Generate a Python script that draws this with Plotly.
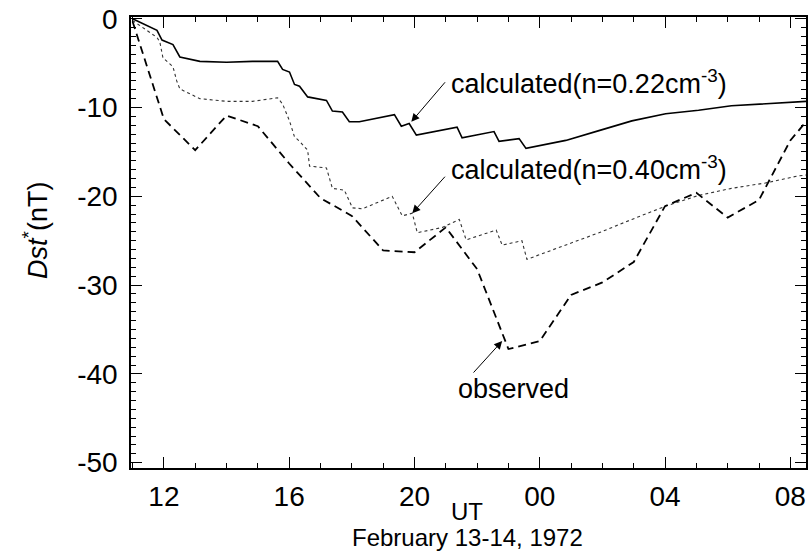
import plotly.graph_objects as go

# Hours counted from 00 UT on February 13, 1972 (24 = 00 UT Feb 14)
calc022_hours = [11.0, 11.78, 11.94, 12.29, 12.51, 13.15, 14.0, 14.83, 15.63, 15.79, 16.01, 16.17, 16.33,
                 16.59, 17.19, 17.38, 17.70, 17.92, 18.24, 19.36, 19.58, 19.83, 20.06, 21.1, 21.36, 21.52,
                 22.54, 22.70, 23.34, 23.56, 24.83, 25.89, 26.94, 28.02, 29.07, 30.12, 31.2, 32.5]
calc022_dst = [0.0, -1.3, -2.4, -2.9, -4.3, -4.8, -4.9, -4.8, -4.8, -5.7, -6.0, -7.4, -7.6,
               -8.8, -9.2, -10.4, -10.5, -11.6, -11.6, -10.8, -12.1, -11.8, -13.1, -12.4, -12.2, -13.4,
               -12.7, -13.8, -13.5, -14.6, -13.7, -12.6, -11.5, -10.7, -10.3, -9.8, -9.6, -9.3]

calc040_hours = [11.0, 11.78, 11.87, 11.97, 12.29, 12.41, 12.51, 13.15, 14.0, 14.83, 15.63, 15.79, 16.01,
                 16.17, 16.33, 16.59, 16.65, 17.19, 17.38, 17.76, 18.02, 18.34, 19.29, 19.61, 19.93, 20.09,
                 20.89, 21.43, 21.65, 22.61, 22.80, 23.43, 23.59, 24.83, 25.89, 26.94, 28.02, 29.07, 30.12,
                 31.2, 32.25, 32.5]
calc040_dst = [-0.2, -2.1, -2.6, -4.4, -5.4, -7.0, -7.9, -9.0, -9.3, -9.3, -8.9, -9.6, -11.5,
               -13.3, -13.8, -14.8, -16.6, -16.8, -19.1, -19.3, -21.3, -21.4, -20.0, -22.2, -21.9, -24.1,
               -23.5, -22.6, -24.9, -23.8, -25.5, -25.0, -27.1, -25.5, -24.1, -22.6, -21.1, -19.9, -19.1,
               -18.5, -17.7, -17.6]

obs_hours = [11, 12, 13, 14, 15, 16, 17, 18, 19, 20, 21, 22, 23, 24, 25, 26, 27, 28, 29, 30, 31, 32, 32.5]
obs_dst = [-0.3, -11.3, -14.8, -10.9, -12.1, -16.3, -20.2, -22.2, -26.1, -26.3, -23.5, -28.2, -37.2,
           -36.3, -31.1, -29.7, -27.4, -21.1, -19.6, -22.4, -20.4, -13.7, -11.6]

x_tickvals = [12, 16, 20, 24, 28, 32]
x_ticktext = ["12", "16", "20", "00", "04", "08"]
y_tickvals = [0, -10, -20, -30, -40, -50]
y_ticktext = ["0", "-10", "-20", "-30", "-40", "-50"]

FONT = "Liberation Sans, Arial, sans-serif"

fig = go.Figure()
fig.add_trace(go.Scatter(x=calc022_hours, y=calc022_dst, mode="lines",
                         line=dict(color="black", width=1.6), name="calculated(n=0.22)"))
fig.add_trace(go.Scatter(x=calc040_hours, y=calc040_dst, mode="lines",
                         line=dict(color="#333333", width=1.1, dash="dot"), name="calculated(n=0.40)"))
fig.add_trace(go.Scatter(x=obs_hours, y=obs_dst, mode="lines",
                         line=dict(color="black", width=1.8, dash="8px,5px"), name="observed"))

axis_common = dict(showline=True, linecolor="black", linewidth=1.5, mirror="ticks",
                   ticks="inside", tickcolor="black", showgrid=False, zeroline=False,
                   ticklabeloverflow="allow",
                   tickfont=dict(family=FONT, size=28, color="black"))

fig.update_xaxes(range=[10.95, 32.5], tickmode="array", tickvals=x_tickvals, ticktext=x_ticktext,
                 ticklen=11, tickwidth=1.2, ticklabelstandoff=3,
                 minor=dict(ticks="inside", dtick=1, tick0=12, ticklen=5, tickcolor="black", tickwidth=1),
                 **axis_common)
fig.update_yaxes(range=[-50.6, 0.2], tickmode="array", tickvals=y_tickvals, ticktext=y_ticktext,
                 ticklen=11, tickwidth=1.2, ticklabelstandoff=6,
                 minor=dict(ticks="inside", dtick=1, tick0=0, ticklen=5, tickcolor="black", tickwidth=1),
                 **axis_common)

ann_font = dict(family=FONT, size=27, color="black")
bottom_font = dict(family=FONT, size=24, color="black")
annotations = [
    # arrows
    dict(x=19.90, y=-11.6, ax=35, ay=-41, text="", showarrow=True, arrowhead=2, arrowsize=1.6,
         arrowwidth=1, arrowcolor="black"),
    dict(x=19.93, y=-21.9, ax=34, ay=-38, text="", showarrow=True, arrowhead=2, arrowsize=1.6,
         arrowwidth=1, arrowcolor="black"),
    dict(x=22.80, y=-36.3, ax=-30, ay=33, text="", showarrow=True, arrowhead=2, arrowsize=1.6,
         arrowwidth=1, arrowcolor="black"),
    # labels
    dict(x=21.11, y=-7.15, text="calculated(n=0.22cm<sup>-3</sup>)", showarrow=False,
         xanchor="left", yanchor="middle", font=ann_font),
    dict(x=21.11, y=-16.85, text="calculated(n=0.40cm<sup>-3</sup>)", showarrow=False,
         xanchor="left", yanchor="middle", font=ann_font),
    dict(x=21.33, y=-41.7, text="observed", showarrow=False,
         xanchor="left", yanchor="middle", font=ann_font),
    # axis titles
    dict(xref="paper", yref="paper", x=-0.142, y=0.526, text="<i>Dst</i><sup>*</sup>(nT)",
         textangle=-90, showarrow=False, xanchor="center", yanchor="middle", font=ann_font),
    dict(xref="paper", yref="paper", x=0.498, y=-0.0965, text="UT", showarrow=False,
         xanchor="center", yanchor="middle", font=bottom_font),
    dict(xref="paper", yref="paper", x=0.498, y=-0.1535, text="February 13-14, 1972", showarrow=False,
         xanchor="center", yanchor="middle", font=bottom_font),
]

fig.update_layout(width=812, height=552, margin=dict(l=131, r=4, t=12, b=84),
                  paper_bgcolor="white", plot_bgcolor="white", showlegend=False,
                  font=dict(family=FONT, color="black"), annotations=annotations)

fig.write_html("out.html")
